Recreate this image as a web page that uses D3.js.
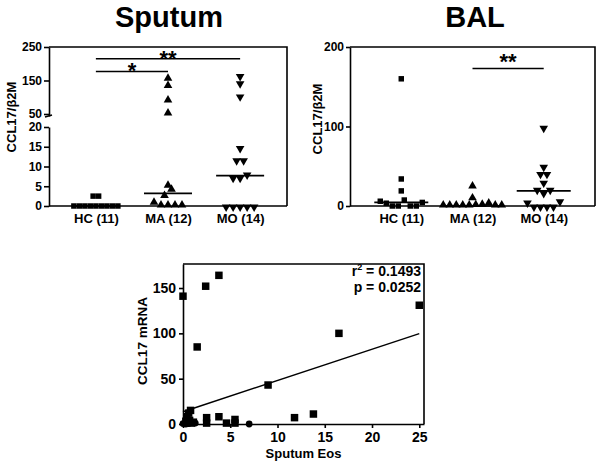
<!DOCTYPE html>
<html>
<head>
<meta charset="utf-8">
<script src="https://cdn.jsdelivr.net/npm/d3@7"></script>
<style>
	body{ margin:0; background:#ffffff; }
	svg{ display:block; font-family:"Liberation Sans", Arial, sans-serif; font-weight:bold; }
</style>
</head>
<body>
<svg id="fig" width="601" height="464"></svg>
<script>
// ---- data ----
const groups      = ["HC (11)", "MA (12)", "MO (14)"];
const groupSymbol = ["square", "up", "down"];

// sputum CCL17/b2M, listed roughly left to right as they sit in each row
const sputumHC = [0, 0, 2.5, 2.5, 0, 0, 0, 0, 0, 0, 0];
const sputumMA = [0.7, 0, 0, 0, 0, 2.4, 4.0, 5.0, 50, 89, 132, 154];
const sputumMO = [0, 0, 0, 0, 0, 7.3, 7.3, 8.1, 11.7, 11.7, 14.8, 104, 143, 165];

// BAL CCL17/b2M
const balHC = [6, 3.5, 0, 0, 7.5, 0, 0, 4.5, 19, 34, 160];
const balMA = [0, 0, 0, 0, 0, 0.5, 1, 2.5, 0, 0, 9, 24];
const balMO = [5, 0, 0, 0, 0, 6.7, 21, 17, 21, 30, 41, 41, 50, 99];

const sputumLowTicks  = [0, 5, 10, 15, 20];
const sputumHighTicks = [50, 150, 250];
const balTicks        = [0, 100, 200];

// significance brackets: [from group, to group, label, height in data units]
const sputumSig = [["HC (11)", "MA (12)", "*", 177], ["HC (11)", "MO (14)", "**", 215]];
const balSig    = [["MA (12)", "MO (14)", "**", 173]];

// sputum eos vs CCL17 mRNA
const eosSqX = [0.0, 2.4, 3.8, 1.5, 16.5, 25.0, 9.0, 0.8, 0.6, 0.4, 2.5, 2.5, 3.8, 4.6, 5.5, 5.5, 11.8, 13.8, 0.7, 1.1, 0.9, 0.3];
const eosSqY = [141, 152, 164, 85, 100, 131, 43, 15, 12, 8, 7, 1, 8, 1, 5, 1, 7, 11, 4, 2, 1, 3];
const eosCiX = [0.0, 0.3, 0.6, 1.3, 7.0];
const eosCiY = [0.5, 0, 0.5, 1, 0];
const eosXTicks = [0, 5, 10, 15, 20, 25];
const eosYTicks = [0, 50, 100, 150];
const fitIntercept = 13.5;
const fitSlope     = 3.45;
const fitR2 = "0.1493";
const fitP  = "0.0252";


const svg = d3.select("#fig");
const ink = "#000000";
const fontFam = "'Liberation Sans', Arial, sans-serif";

function markerPath(kind, size){
	if(kind=="square"){ return d3.symbol(d3.symbolSquare, size)(); }
	if(kind=="circle"){ return d3.symbol(d3.symbolCircle, size)(); }
	return d3.symbol(d3.symbolTriangle, size)();
}

// GraphPad style column scatter: points whose y is close share a row and are spread sideways
function rowSpread(vals, yFn, gap){
	const pts = vals.map((v,i)=>({ v:v, i:i, y:yFn(v), dx:0 }));
	const order = pts.slice().sort((a,b)=> b.y - a.y);
	let rows = [], cur = null;
	order.forEach(p=>{
		if(cur && (cur.y0 - p.y) < gap){ cur.pts.push(p); }
		else{ cur = { y0:p.y, pts:[p] }; rows.push(cur); }
	});
	rows.forEach(r=>{
		r.pts.sort((a,b)=> a.i - b.i);
		r.pts.forEach((p,k)=>{ p.dx = (k - (r.pts.length-1)/2) * gap; });
	});
	return pts;
}

function styleAxis(g, fs){
	// d3 puts font-family/size attrs on the axis group, drop them
	g.attr("font-family", null).attr("font-size", null);
	g.selectAll(".domain").attr("stroke", ink).attr("stroke-width", 1.6);
	g.selectAll(".tick line").attr("stroke", ink).attr("stroke-width", 1.6);
	g.selectAll(".tick text")
		.attr("fill", ink)
		.style("font-family", fontFam)
		.style("font-size", fs+"px")
		.style("font-weight","bold");
}

function drawColumns(cfg){
	const x = d3.scalePoint().domain(groups).range([cfg.left, cfg.right]).padding(cfg.pad);
	const root = svg.append("g").attr("class", cfg.id);

	// frame (top + right)
	root.append("path")
		.attr("d", "M" + cfg.left + "," + cfg.top + "H" + cfg.right + "V" + cfg.bottom)
		.attr("fill", "none").attr("stroke", ink).attr("stroke-width", 1.6);

	// category axis
	const gx = root.append("g")
		.attr("transform", "translate(0," + cfg.bottom + ")")
		.call(d3.axisBottom(x).tickSize(0).tickPadding(8).tickSizeOuter(0));
	gx.select(".domain").attr("d", "M" + cfg.left + ",0H" + cfg.right);
	styleAxis(gx, 13);

	cfg.axes(root);

	// points + medians
	cfg.data.forEach((vals, gi)=>{
		const cx = x(groups[gi]);
		const kind = groupSymbol[gi];
		const gap = kind=="square" ? cfg.sqGap : cfg.triGap;
		const pts = rowSpread(vals, cfg.y, gap);
		root.append("g").selectAll("path")
			.data(pts)
			.enter()
				.append("path")
					.attr("d", markerPath(kind, kind=="square" ? 30 : 32))
					.attr("transform", d=> "translate(" + (cx + d.dx) + "," + (cfg.y(d.v) + (kind=="up" ? -1 : kind=="down" ? 1 : 0)) + ")" + (kind=="down" ? " rotate(180)" : ""))
					.attr("fill", ink);
		const med = d3.median(vals);
		root.append("line")
			.attr("x1", cx - cfg.medHalf).attr("x2", cx + cfg.medHalf)
			.attr("y1", cfg.y(med)).attr("y2", cfg.y(med))
			.attr("stroke", ink).attr("stroke-width", 1.6);
	});

	// significance bars
	cfg.sig.forEach(s=>{
		const yy = cfg.y(s[3]);
		root.append("line")
			.attr("x1", x(s[0])).attr("x2", x(s[1]))
			.attr("y1", yy).attr("y2", yy)
			.attr("stroke", ink).attr("stroke-width", 1.6);
		root.append("text")
			.attr("x", (x(s[0]) + x(s[1]))/2)
			.attr("y", yy + cfg.starDy)
			.attr("text-anchor", "middle")
			.style("font-size", "22px")
			.text(s[2]);
	});

	// title + y label
	root.append("text")
		.attr("x", cfg.titleX).attr("y", 27)
		.attr("text-anchor", "middle")
		.style("font-size", "29px")
		.text(cfg.title);
	root.append("text")
		.attr("transform", "translate(" + cfg.labX + "," + cfg.labY + ") rotate(-90)")
		.attr("text-anchor", "middle")
		.style("font-size", "13px")
		.text("CCL17/β2M");
}

// ---- Sputum: broken y axis ----
const spLow  = d3.scaleLinear().domain([0, 20]).range([206, 127]);
const spHigh = d3.scaleLinear().domain([44, 250]).range([116, 47]);
const spY    = v => v <= 20 ? spLow(v) : spHigh(v);

drawColumns({
	id: "sputum", left: 49, right: 287, top: 47, bottom: 206, pad: 0.65,
	y: spY, data: [sputumHC, sputumMA, sputumMO], sig: sputumSig,
	sqGap: 5.5, triGap: 7, medHalf: 24, starDy: 7,
	title: "Sputum", titleX: 169, labX: 16, labY: 117,
	axes: function(root){
		const gl = root.append("g").attr("transform", "translate(49,0)")
			.call(d3.axisLeft(spLow).tickValues(sputumLowTicks).tickSize(5).tickPadding(2).tickSizeOuter(0));
		styleAxis(gl, 12);
		const gh = root.append("g").attr("transform", "translate(49,0)")
			.call(d3.axisLeft(spHigh).tickValues(sputumHighTicks).tickSize(5).tickPadding(2).tickSizeOuter(0));
		styleAxis(gh, 12);
		// break mark
		root.append("line")
			.attr("x1", 45).attr("x2", 52).attr("y1", spHigh(44) + 1).attr("y2", spHigh(44) - 1)
			.attr("stroke", ink).attr("stroke-width", 1.6);
	}
});

// ---- BAL ----
const balY = d3.scaleLinear().domain([0, 200]).range([206, 47]);

drawColumns({
	id: "bal", left: 350, right: 595, top: 47, bottom: 206, pad: 0.72,
	y: balY, data: [balHC, balMA, balMO], sig: balSig,
	sqGap: 6, triGap: 6.5, medHalf: 27, starDy: 1,
	title: "BAL", titleX: 475, labX: 322, labY: 119,
	axes: function(root){
		const g = root.append("g").attr("transform", "translate(350,0)")
			.call(d3.axisLeft(balY).tickValues(balTicks).tickSize(4).tickPadding(2).tickSizeOuter(0));
		styleAxis(g, 12);
	}
});

// ---- correlation panel ----
const cL = 183, cR = 424, cT = 264, cB = 424;
const ex = d3.scaleLinear().domain([0, 25.5]).range([cL, cR]);
const ey = d3.scaleLinear().domain([0, 176.5]).range([cB, cT]);
const corr = svg.append("g").attr("class", "corr");

corr.append("path")
	.attr("d", "M" + cL + "," + cT + "H" + cR + "V" + cB)
	.attr("fill", "none").attr("stroke", ink).attr("stroke-width", 1.6);

const cgx = corr.append("g").attr("transform", "translate(0," + cB + ")")
	.call(d3.axisBottom(ex).tickValues(eosXTicks).tickSize(4).tickPadding(4).tickSizeOuter(0));
styleAxis(cgx, 14);
const cgy = corr.append("g").attr("transform", "translate(" + cL + ",0)")
	.call(d3.axisLeft(ey).tickValues(eosYTicks).tickSize(4).tickPadding(3).tickSizeOuter(0));
styleAxis(cgy, 14);

// fit line over the x range of the data
const fitX = d3.extent(eosSqX.concat(eosCiX));
corr.append("line")
	.attr("x1", ex(fitX[0])).attr("y1", ey(fitIntercept + fitSlope*fitX[0]))
	.attr("x2", ex(fitX[1])).attr("y2", ey(fitIntercept + fitSlope*fitX[1]))
	.attr("stroke", ink).attr("stroke-width", 1.4);

corr.append("g").selectAll("path")
	.data(d3.zip(eosSqX, eosSqY))
	.enter()
		.append("path")
			.attr("d", markerPath("square", 56))
			.attr("transform", d=> "translate(" + ex(d[0]) + "," + ey(d[1]) + ")")
			.attr("fill", ink);
corr.append("g").selectAll("path")
	.data(d3.zip(eosCiX, eosCiY))
	.enter()
		.append("path")
			.attr("d", markerPath("circle", 36))
			.attr("transform", d=> "translate(" + ex(d[0]) + "," + ey(d[1]) + ")")
			.attr("fill", ink);

const r2 = corr.append("text")
	.attr("x", 421).attr("y", 276)
	.attr("text-anchor", "end")
	.style("font-size", "14px");
r2.append("tspan").text("r");
r2.append("tspan").attr("dy", -6).style("font-size", "9px").text("2");
r2.append("tspan").attr("dy", 6).text(" = " + fitR2);
corr.append("text")
	.attr("x", 421).attr("y", 292)
	.attr("text-anchor", "end")
	.style("font-size", "14px")
	.text("p = " + fitP);

corr.append("text")
	.attr("x", (cL + cR)/2).attr("y", 458)
	.attr("text-anchor", "middle")
	.style("font-size", "13px")
	.text("Sputum Eos");
corr.append("text")
	.attr("transform", "translate(147," + ((cT + cB)/2 - 3) + ") rotate(-90)")
	.attr("text-anchor", "middle")
	.style("font-size", "13.5px")
	.text("CCL17 mRNA");
</script>
</body>
</html>
